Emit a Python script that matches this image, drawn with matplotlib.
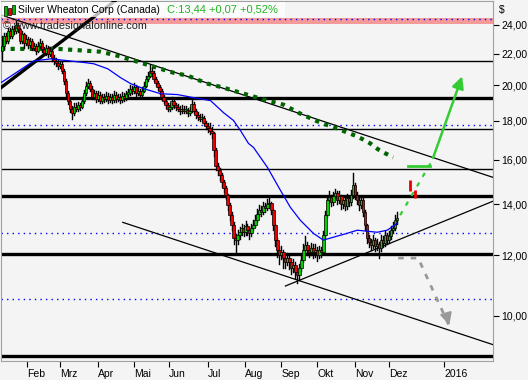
import matplotlib
matplotlib.use("Agg")
import matplotlib.pyplot as plt
from matplotlib.patches import Rectangle

plt.rcParams["font.family"] = ["Liberation Sans", "DejaVu Sans"]

# daily closes (bar index 0 = first session in January)
closes = [
    22.54, 23.22, 22.88, 23.57, 23.22, 23.71, 23.57, 24.00, 23.71, 22.88,
    23.36, 22.74, 23.01, 22.60, 22.88, 22.40, 22.54, 22.20, 22.54, 22.74,
    22.33, 22.07, 22.40, 22.00, 22.20, 21.74, 21.54, 21.42, 21.22, 21.35,
    20.91, 20.29, 19.57, 19.11, 18.66, 18.43, 18.77, 18.66, 18.88, 18.77,
    19.11, 19.57, 19.99, 20.17, 19.81, 19.34, 19.57, 19.22, 19.46, 19.11,
    19.34, 19.22, 19.40, 19.17, 19.34, 19.17, 19.46, 19.22, 19.34, 19.17,
    19.40, 19.28, 19.51, 19.57, 19.81, 19.69, 19.93, 19.57, 19.69, 19.46,
    19.69, 19.99, 20.41, 20.60, 20.91, 20.78, 20.41, 20.17, 19.93, 19.69,
    19.34, 19.11, 18.88, 18.66, 18.77, 19.11, 18.88, 18.77, 18.66, 18.54,
    18.66, 18.54, 18.60, 18.43, 18.54, 18.94, 18.54, 18.32, 18.21, 18.10,
    18.16, 17.89, 17.73, 17.62, 17.46, 17.36, 16.45, 15.72, 15.49, 15.26,
    14.94, 14.68, 14.37, 13.95, 13.54, 13.14, 12.63, 12.56, 12.75, 12.86,
    13.02, 12.86, 13.10, 12.94, 12.82, 13.02, 13.14, 13.33, 13.58, 13.74,
    13.66, 13.91, 13.82, 13.99, 14.03, 13.74, 13.14, 12.56, 12.19, 12.01,
    12.11, 11.90, 11.76, 11.90, 11.76, 11.55, 11.65, 11.41, 11.31, 11.55,
    11.83, 12.19, 12.37, 12.19, 12.11, 12.26, 12.11, 12.19, 12.01, 12.19,
    12.11, 12.75, 13.54, 14.16, 14.29, 14.07, 14.33, 14.46, 14.16, 14.33,
    13.99, 14.16, 13.91, 14.24, 14.07, 14.37, 14.81, 14.37, 14.16, 13.95,
    14.16, 13.66, 13.14, 12.63, 12.48, 12.37, 12.56, 12.33, 12.41, 12.26,
    12.56, 12.45, 12.75, 12.56, 12.71, 12.94, 13.02, 13.33, 13.44,
]
highs = [
    23.20, 23.45, 23.40, 23.80, 23.75, 23.95, 23.90, 24.30, 24.15, 23.80,
    23.55, 23.45, 23.25, 23.15, 23.10, 23.00, 22.75, 22.65, 22.80, 23.00,
    22.85, 22.45, 22.60, 22.50, 22.45, 22.30, 21.95, 21.75, 21.60, 21.55,
    21.45, 21.00, 20.40, 19.70, 19.25, 18.80, 18.95, 18.95, 19.05, 19.00,
    19.30, 19.75, 20.20, 20.40, 20.25, 19.95, 19.75, 19.70, 19.65, 19.60,
    19.50, 19.50, 19.60, 19.55, 19.50, 19.50, 19.65, 19.60, 19.50, 19.50,
    19.60, 19.55, 19.70, 19.80, 20.05, 19.95, 20.15, 20.05, 19.90, 19.80,
    19.90, 20.20, 20.60, 20.85, 21.25, 21.10, 20.90, 20.50, 20.30, 20.05,
    19.80, 19.45, 19.25, 19.00, 18.95, 19.30, 19.20, 19.00, 18.90, 18.80,
    18.85, 18.80, 18.80, 18.70, 18.75, 19.20, 19.05, 18.65, 18.45, 18.35,
    18.35, 18.25, 17.95, 17.85, 17.85, 17.65, 17.40, 16.55, 15.85, 15.60,
    15.35, 15.05, 14.80, 14.45, 14.05, 13.65, 13.25, 12.80, 12.95, 13.05,
    13.20, 13.15, 13.30, 13.20, 13.05, 13.20, 13.35, 13.55, 13.80, 13.95,
    13.90, 14.10, 14.05, 14.20, 14.30, 14.10, 13.80, 13.20, 12.65, 12.30,
    12.35, 12.20, 12.00, 12.10, 12.00, 11.85, 11.85, 11.75, 11.55, 11.70,
    12.00, 12.40, 12.70, 12.50, 12.35, 12.45, 12.40, 12.40, 12.30, 12.35,
    12.30, 12.90, 13.70, 14.35, 14.55, 14.40, 14.50, 14.65, 14.55, 14.55,
    14.40, 14.35, 14.25, 14.45, 14.35, 14.60, 15.36, 14.90, 14.50, 14.25,
    14.35, 14.25, 13.75, 13.20, 12.75, 12.60, 12.75, 12.65, 12.60, 12.50,
    12.75, 12.70, 12.90, 12.85, 12.90, 13.10, 13.25, 13.55, 13.65,
]
lows = [
    21.60, 22.35, 22.70, 22.75, 23.05, 23.10, 23.35, 23.45, 23.50, 22.70,
    22.75, 22.40, 22.60, 22.40, 22.45, 22.25, 22.25, 22.00, 22.10, 22.40,
    22.15, 21.90, 21.95, 21.80, 21.85, 21.55, 21.35, 21.20, 21.00, 21.05,
    20.75, 20.10, 19.40, 18.90, 18.45, 18.10, 18.30, 18.50, 18.55, 18.60,
    18.70, 19.00, 19.45, 19.85, 19.65, 19.20, 19.20, 19.05, 19.10, 18.95,
    19.00, 19.05, 19.10, 19.00, 19.05, 19.00, 19.05, 19.05, 19.10, 18.95,
    19.05, 19.10, 19.15, 19.35, 19.45, 19.50, 19.55, 19.40, 19.45, 19.30,
    19.35, 19.60, 19.90, 20.30, 20.50, 20.60, 20.25, 20.00, 19.75, 19.50,
    19.15, 18.95, 18.70, 18.50, 18.50, 18.65, 18.70, 18.60, 18.50, 18.35,
    18.40, 18.40, 18.40, 18.25, 18.30, 18.45, 18.40, 18.15, 18.05, 17.95,
    17.95, 17.75, 17.55, 17.40, 17.30, 17.10, 16.20, 15.50, 15.30, 15.05,
    14.75, 14.50, 14.20, 13.75, 13.35, 12.95, 12.40, 12.04, 12.40, 12.60,
    12.75, 12.70, 12.75, 12.75, 12.60, 12.70, 12.95, 13.05, 13.25, 13.50,
    13.50, 13.60, 13.65, 13.75, 13.85, 13.60, 12.95, 12.35, 11.95, 11.70,
    11.85, 11.55, 11.55, 11.65, 11.50, 11.35, 11.40, 11.20, 11.05, 11.15,
    11.45, 11.75, 12.05, 12.00, 11.95, 12.00, 11.90, 11.95, 11.80, 11.90,
    11.95, 12.05, 12.65, 13.45, 14.05, 13.90, 13.95, 14.25, 14.00, 14.05,
    13.80, 13.85, 13.75, 13.80, 13.90, 13.95, 14.25, 14.20, 14.00, 13.75,
    13.85, 13.50, 12.95, 12.45, 12.30, 12.20, 12.25, 12.15, 12.20, 11.90,
    12.15, 12.30, 12.35, 12.40, 12.45, 12.60, 12.85, 12.95, 13.20,
]
first_open = 22.20

# 50-day average (blue), sampled along its course
ma_x = [-0.5, 16, 24.5, 42, 46, 53, 59.5, 64.5, 71, 79.5, 88, 96, 104.5, 111, 116,
        119.5, 123.5, 126, 133, 139.5, 144.5, 149.5, 156, 161, 166, 173, 178, 188, 193, 198]
ma_y = [20.17, 21.54, 21.67, 21.42, 21.35, 21.03, 20.47, 20.11, 19.81, 19.51, 19.46, 19.28,
        19.11, 18.43, 18.00, 17.46, 16.80, 16.60, 15.63, 14.59, 13.86, 13.33, 12.82, 12.56,
        12.67, 12.82, 12.94, 12.86, 12.94, 13.21]

# dark green dotted arc
arc_x = [-0.5, 28, 49.5, 58, 69.5, 74.5, 86, 93, 103, 111, 116, 124.5, 133, 141, 148.5,
         157, 161, 168, 173, 177, 181, 184.5, 188.5, 192, 196]
arc_y = [22.33, 22.33, 22.14, 21.87, 21.42, 21.22, 20.78, 20.60, 20.11, 19.87, 19.69, 19.40,
         19.11, 18.88, 18.43, 18.00, 17.83, 17.57, 17.36, 17.20, 17.00, 16.80, 16.50, 16.31, 16.11]

# horizontal levels
thin_levels = [21.55, 17.52, 15.54]
thick_levels = [19.28, 14.33, 12.04, 8.87]
dotted_levels = [24.43, 17.74, 12.82, 10.53]
band = (24.07, 24.50)

# trend lines: (x0, p0, x1, p1)
trend_thin = [(-0.5, 24.73, 246, 15.17),   # upper falling line
              (60.5, 13.25, 246, 9.17),    # lower falling line
              (142, 10.94, 246, 14.12)]    # rising support
trend_thick = (-0.5, 19.87, 56.5, 25.79)

# projections
up_path_x = [199.5, 215.5]
up_path_y = [13.54, 15.96]
up_arrow = (215.5, 15.96, 231, 20.72)
up_level = (203.5, 214.5, 15.72)
proj_x = [204.5, 207.0]
proj_lo = [14.55, 14.25]
proj_hi = [15.05, 14.60]
down_path_x = [198.5, 208.5, 224.5]
down_path_y = [11.90, 11.90, 9.65]

month_pos = [12.5, 29, 48, 66, 83.5, 103, 121.5, 140, 158, 177, 194, 221.5]
month_labels = ["Feb", "Mrz", "Apr", "Mai", "Jun", "Jul", "Aug", "Sep", "Okt", "Nov", "Dez", "2016"]
price_ticks = [10, 12, 14, 16, 18, 20, 22, 24]

BG = "#f4f4f4"
fig = plt.figure(figsize=(5.28, 3.80), dpi=100)
fig.patch.set_facecolor("#f4f4f4")
ax = fig.add_axes([1 / 528, 19 / 380, 492 / 528, 360 / 380])
ax.set_facecolor(BG)
ax.set_yscale("log")
ax.set_xlim(-0.5, 246)
ax.set_ylim(8.73, 25.79)

for s in ax.spines.values():
    s.set_color("#a0a0a0")

ax.axhspan(band[0], band[1], color="#f59a9a", lw=0, zorder=1)
for lv in thin_levels:
    ax.axhline(lv, color="black", lw=1.0, zorder=2)
for lv in thick_levels:
    ax.axhline(lv, color="black", lw=2.4, zorder=2)
for lv in dotted_levels:
    ax.axhline(lv, color="#0000ff", lw=1.0, ls=(0, (1, 3)), zorder=2)

for x0, p0, x1, p1 in trend_thin:
    ax.plot([x0, x1], [p0, p1], color="black", lw=0.9, zorder=3)
ax.plot(trend_thick[::2], trend_thick[1::2], color="black", lw=2.4, zorder=3)

ax.plot(arc_x, arc_y, color="#006400", lw=3, ls=(0, (1.0, 1.3)), zorder=3)

# candles
opens = [first_open] + closes[:-1]
for i, (o, h, l, c) in enumerate(zip(opens, highs, lows, closes)):
    ax.plot([i, i], [min(l, o, c), max(h, o, c)], color="black", lw=1.0, zorder=4)
    lo, hi = min(o, c), max(o, c)
    if hi / lo < 1.004:
        hi = lo * 1.004
    ax.add_patch(Rectangle((i - 0.6, lo), 1.2, hi - lo,
                           facecolor="#00d000" if c >= o else "#ee0000",
                           edgecolor="black", lw=0.5, zorder=5))

ax.plot(ma_x, ma_y, color="#0000ff", lw=0.9, zorder=6)

# projections
ax.plot(up_path_x, up_path_y, color="#33cc33", lw=1.6, ls=(0, (2, 3)), zorder=6)
ax.plot(up_level[:2], [up_level[2]] * 2, color="#33cc33", lw=2, zorder=6)
ax.vlines(proj_x, proj_lo, proj_hi, color="#ee0000", lw=2, zorder=6)
ax.annotate("", xy=up_arrow[2:], xytext=up_arrow[:2],
            arrowprops=dict(arrowstyle="-|>,head_length=0.7,head_width=0.35",
                            color="#33cc33", lw=1.8), zorder=6)
ax.plot(down_path_x, down_path_y, color="#999999", lw=2, ls=(0, (2, 2.5)), zorder=6)
ax.annotate("", xy=(down_path_x[-1], down_path_y[-1]),
            xytext=(down_path_x[-1] - 1.2, down_path_y[-1] * 1.025),
            arrowprops=dict(arrowstyle="-|>,head_length=0.7,head_width=0.35",
                            color="#999999", lw=1.5), zorder=6)

ax.yaxis.tick_right()
ax.set_yticks(price_ticks)
ax.set_yticklabels([f"{v:.2f}".replace(".", ",") for v in price_ticks])
ax.yaxis.set_minor_locator(plt.NullLocator())
ax.tick_params(axis="y", direction="out", length=4, width=0.8, pad=2,
               labelsize=7.5, colors="black")
ax.set_xticks(month_pos)
ax.set_xticklabels(month_labels, ha="left")
ax.tick_params(axis="x", direction="out", length=4, width=0.8, pad=1.5, labelsize=7.5)

fig.text(499 / 528, 1 - 10 / 380, "$", fontsize=7.5, va="center")

# header
fig.patches.append(Rectangle((0, 1 - 17 / 380), 285 / 528, 15 / 380, transform=fig.transFigure,
                             facecolor="white", alpha=0.75, lw=0, zorder=5))
for xo, yb, hgt, col in [(4, 6, 10, "#00bb00"), (8, 8, 7, "#ee0000"), (12, 5, 9, "#00bb00")]:
    fig.patches.append(Rectangle((xo / 528, 1 - (yb + hgt) / 380), 2.5 / 528, hgt / 380,
                                 transform=fig.transFigure, facecolor=col,
                                 edgecolor="black", lw=0.5, zorder=6))
fig.text(18 / 528, 1 - 10 / 380, "Silver Wheaton Corp (Canada)", fontsize=7.5, va="center",
         color="black", zorder=7)
fig.text(167 / 528, 1 - 10 / 380, "C:13,44 +0,07 +0,52%", fontsize=8, va="center",
         color="#1fb51f", zorder=7)
fig.text(3 / 528, 1 - 26 / 380, "\u00a9 www.tradesignalonline.com", fontsize=7.8, va="center",
         color="#222222", zorder=7)

fig.savefig("out.png", dpi=100, facecolor=fig.get_facecolor())
